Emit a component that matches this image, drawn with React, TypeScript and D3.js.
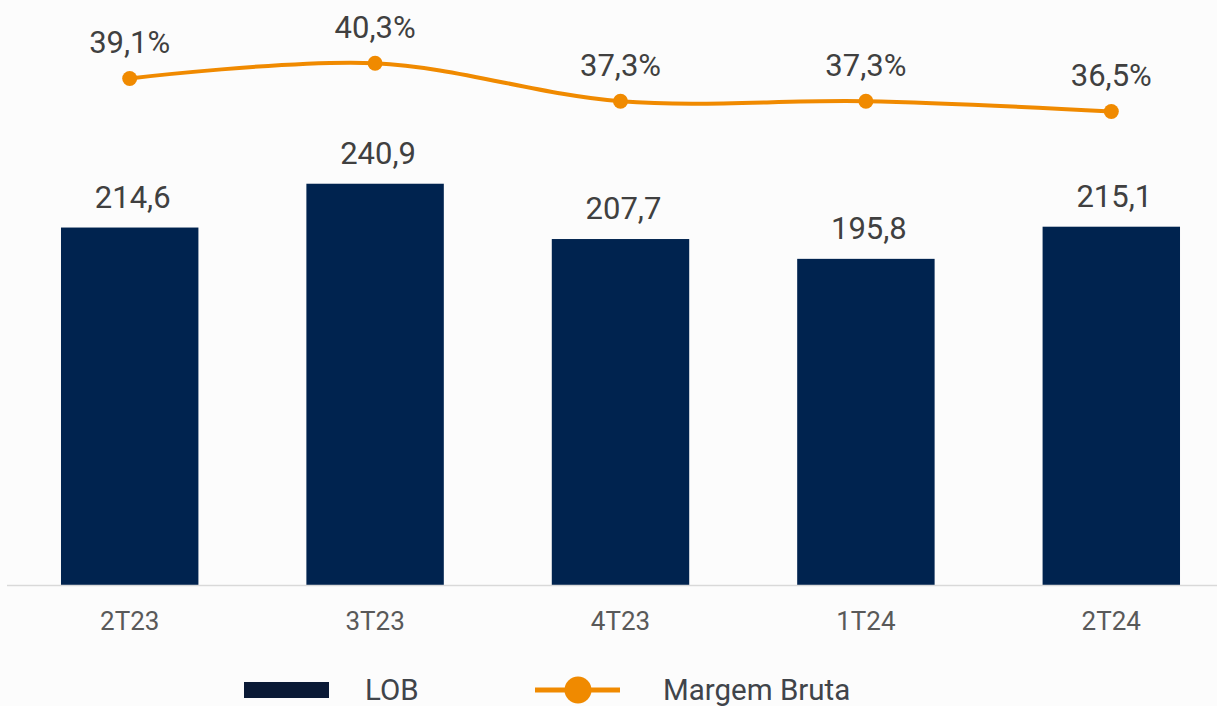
import React from "react";
import * as d3 from "d3";

const categories = ["2T23", "3T23", "4T23", "1T24", "2T24"];
const lobValues = [214.6, 240.9, 207.7, 195.8, 215.1];
const marginValues = [39.1, 40.3, 37.3, 37.3, 36.5];
const legendLabels = ["LOB", "Margem Bruta"];

const W = 1217;
const H = 706;
const BASE = 585;
const NAVY = "#00234f";
const ORANGE = "#f08a00";
const fmt = (v: number, d = 1) => v.toFixed(d).replace(".", ",");

export default function App() {
  const x = d3.scaleBand<string>().domain(categories).range([7, 1234]).paddingInner(0.44).paddingOuter(0.22);
  const yBar = d3.scaleLinear().domain([0, 350]).range([BASE, 2]);
  const yLine = d3.scaleLinear().domain([0, 45]).range([575, 3.5]);
  const cx = (c: string) => (x(c) ?? 0) + x.bandwidth() / 2;

  const pts: [number, number][] = categories.map((c, i) => [cx(c), yLine(marginValues[i])]);
  const line = d3.line().curve(d3.curveCardinal.tension(0))(pts) ?? "";

  const font = "Roboto, 'Noto Sans', sans-serif";

  return (
    <svg width={W} height={H} style={{ position: "absolute", left: 0, top: 0, background: "#fcfcfc" }} fontFamily={font}>
      <rect x={0} y={0} width={W} height={H} fill="#fcfcfc" />
      {categories.map((c, i) => (
        <g key={c}>
          <rect x={x(c)} y={yBar(lobValues[i])} width={x.bandwidth()} height={BASE - yBar(lobValues[i])} fill={NAVY} />
          <text x={cx(c) + 3} y={yBar(lobValues[i]) - 20} textAnchor="middle" fontSize={31} fill="#404040">
            {fmt(lobValues[i])}
          </text>
          <text x={cx(c)} y={630} textAnchor="middle" fontSize={26} fill="#595959">
            {c}
          </text>
        </g>
      ))}
      <line x1={7} x2={W} y1={BASE + 0.5} y2={BASE + 0.5} stroke="#d9d9d9" strokeWidth={1.5} />
      <path d={line} fill="none" stroke={ORANGE} strokeWidth={4} />
      {categories.map((c, i) => (
        <g key={"m" + c}>
          <circle cx={cx(c)} cy={yLine(marginValues[i])} r={7.5} fill={ORANGE} />
          <text x={cx(c)} y={yLine(marginValues[i]) - 25} textAnchor="middle" fontSize={31} fill="#404040">
            {fmt(marginValues[i]) + "%"}
          </text>
        </g>
      ))}
      {/* legend */}
      <rect x={244} y={682} width={85} height={16} fill="#0a1a36" />
      <text x={365} y={700} fontSize={29.5} fill="#40444a">{legendLabels[0]}</text>
      <line x1={535} x2={620} y1={690} y2={690} stroke={ORANGE} strokeWidth={5} />
      <circle cx={578} cy={690} r={13.5} fill={ORANGE} />
      <text x={663} y={700} fontSize={29.5} fill="#40444a">{legendLabels[1]}</text>
    </svg>
  );
}
